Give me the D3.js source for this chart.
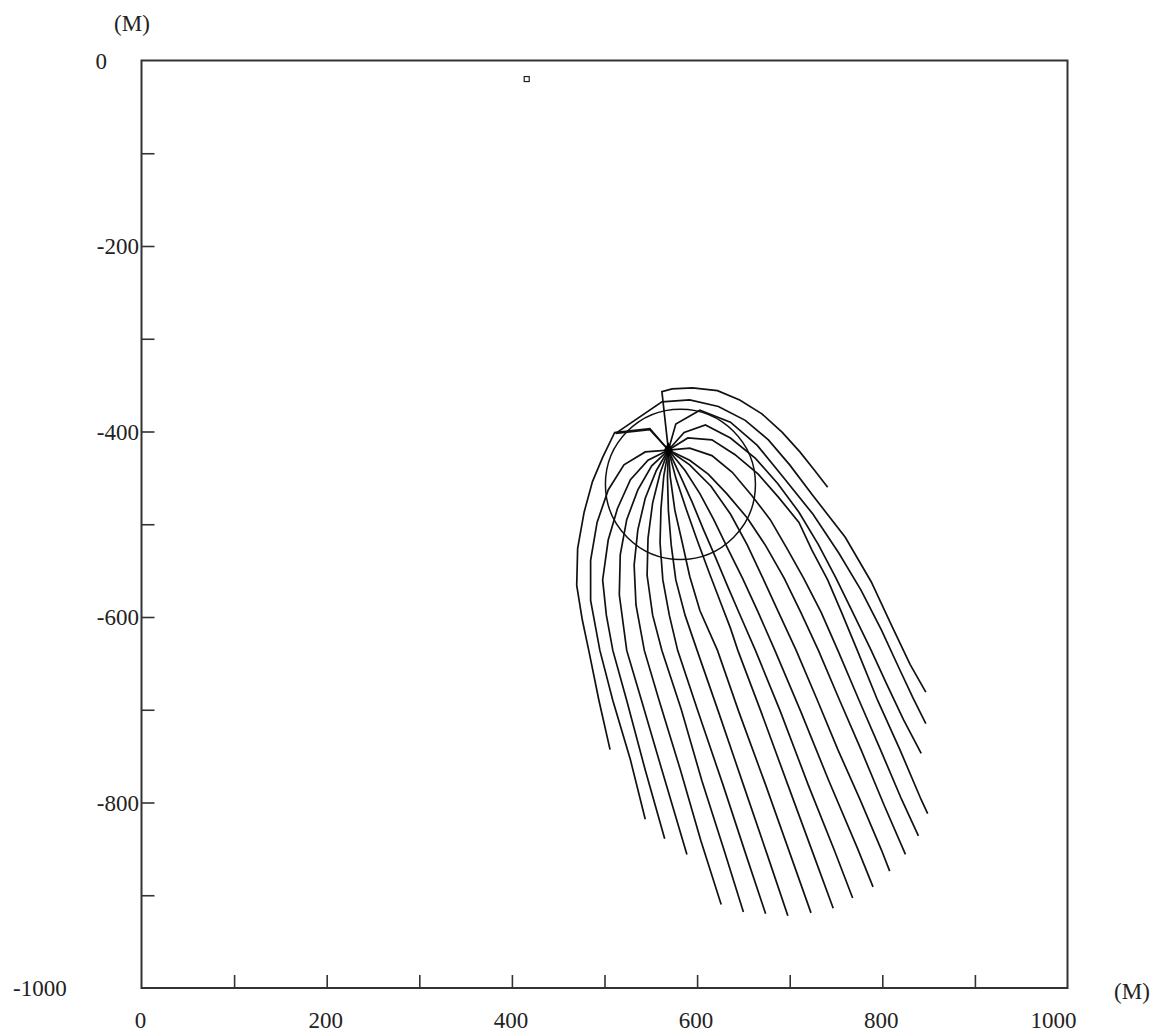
<!DOCTYPE html>
<html>
<head>
<meta charset="utf-8">
<script src="https://cdn.jsdelivr.net/npm/d3@7"></script>
<style>
  body { margin: 0; background: #fff; }
  text { font-family: "Liberation Serif", "Times New Roman", serif; font-size: 23px; fill: #222; }
</style>
</head>
<body>
<svg id="svg" width="1160" height="1032"></svg>
<script>
// axis ticks
var xTicks = [0, 100, 200, 300, 400, 500, 600, 700, 800, 900, 1000];
var yTicks = [0, -100, -200, -300, -400, -500, -600, -700, -800, -900, -1000];
var xLabels = [0, 200, 400, 600, 800, 1000];
var yLabels = [0, -200, -400, -600, -800, -1000];

// source point, marker and circle (metres)
var source = [569, -420];
var marker = [416, -20];
var circle = { cx: 582, cy: -457, r: 81 };

// trajectories, left to right as they end at the bottom
var track1 = [[569,-420],[549,-397],[511,-401],[498,-428],[487,-454],[478,-487],[471,-526],[470,-566],[476,-603],[483,-636],[494,-690],[506,-743]];
var track2 = [[569,-420],[544,-422],[521,-436],[504,-463],[492,-498],[485,-539],[485,-582],[495,-636],[509,-690],[528,-754],[544,-818]];
var track3 = [[569,-420],[547,-431],[528,-452],[514,-483],[504,-517],[498,-560],[502,-598],[509,-636],[524,-690],[544,-765],[565,-839]];
var track4 = [[569,-420],[551,-437],[536,-463],[524,-495],[517,-533],[516,-576],[524,-636],[540,-690],[562,-765],[589,-856]];
var track5 = [[569,-420],[556,-442],[544,-472],[536,-506],[532,-544],[534,-587],[543,-636],[559,-690],[582,-765],[604,-841],[626,-910]];
var track6 = [[569,-420],[560,-445],[552,-477],[547,-515],[546,-555],[552,-598],[562,-636],[583,-700],[605,-776],[629,-851],[650,-918]];
var track7 = [[569,-420],[564,-448],[561,-483],[560,-520],[563,-560],[570,-598],[579,-636],[601,-702],[628,-781],[653,-857],[674,-920]];
var track8 = [[569,-420],[568,-449],[569,-485],[572,-522],[577,-560],[587,-598],[600,-636],[623,-702],[650,-781],[676,-857],[698,-922]];
var track9 = [[569,-420],[571,-449],[576,-485],[584,-520],[592,-556],[603,-593],[622,-636],[645,-702],[674,-781],[701,-857],[723,-919]];
var track10 = [[569,-420],[577,-450],[588,-483],[600,-517],[613,-552],[626,-586],[636,-612],[644,-636],[669,-702],[698,-781],[726,-857],[747,-914]];
var track11 = [[569,-420],[582,-448],[595,-477],[607,-506],[620,-536],[633,-567],[646,-597],[663,-636],[690,-702],[720,-781],[748,-851],[768,-903]];
var track12 = [[569,-420],[587,-442],[603,-467],[618,-495],[633,-526],[649,-558],[666,-595],[684,-636],[712,-702],[742,-776],[773,-849],[790,-891]];
var track13 = [[569,-420],[592,-436],[615,-459],[636,-489],[654,-522],[671,-558],[688,-595],[707,-636],[730,-690],[752,-743],[776,-797],[799,-851],[808,-874]];
var track14 = [[569,-420],[592,-431],[612,-446],[632,-467],[654,-493],[674,-523],[694,-558],[712,-595],[731,-636],[754,-690],[777,-743],[802,-803],[825,-856]];
var track15 = [[569,-420],[592,-418],[616,-426],[638,-444],[659,-469],[679,-495],[697,-526],[715,-558],[734,-595],[752,-636],[775,-690],[798,-743],[821,-797],[839,-836]];
var track16 = [[569,-420],[590,-407],[616,-409],[641,-425],[666,-446],[688,-471],[710,-498],[724,-528],[741,-560],[756,-595],[773,-636],[795,-690],[819,-743],[842,-797],[849,-812]];
var track17 = [[569,-420],[586,-401],[609,-393],[636,-407],[663,-429],[687,-456],[710,-487],[731,-522],[750,-558],[769,-597],[788,-636],[805,-673],[823,-711],[842,-747]];
var track18 = [[569,-420],[577,-392],[603,-377],[636,-390],[665,-415],[692,-448],[725,-489],[753,-531],[777,-571],[799,-614],[818,-655],[833,-687],[847,-715]];
var track19 = [[569,-420],[549,-398],[512,-402],[562,-368],[592,-366],[623,-373],[652,-388],[677,-409],[700,-436],[725,-469],[760,-514],[788,-562],[810,-609],[830,-651],[847,-681]];
var track20 = [[569,-420],[562,-357],[573,-354],[595,-353],[622,-356],[646,-366],[670,-381],[692,-401],[711,-422],[727,-442],[741,-460]];

var tracks = [track1, track2, track3, track4, track5, track6, track7, track8, track9, track10,
              track11, track12, track13, track14, track15, track16, track17, track18, track19, track20];

var plotL = 141.5, plotT = 60.5, plotR = 1067.5, plotB = 988;

var x = d3.scaleLinear().domain([0, 1000]).range([plotL, plotR]);
var y = d3.scaleLinear().domain([0, -1000]).range([plotT, plotB]);

var svg = d3.select("#svg");

// ticks pointing inside the frame
svg.append("g")
  .attr("transform", "translate(0," + plotB + ")")
  .call(d3.axisBottom(x).tickValues(xTicks.slice(1, -1)).tickSize(-13).tickFormat(""))
  .call(function(g) { g.select(".domain").remove(); })
  .selectAll("line").attr("stroke", "#333").attr("stroke-width", 1.6);

svg.append("g")
  .attr("transform", "translate(" + plotL + ",0)")
  .call(d3.axisLeft(y).tickValues(yTicks.slice(1, -1)).tickSize(-13).tickFormat(""))
  .call(function(g) { g.select(".domain").remove(); })
  .selectAll("line").attr("stroke", "#333").attr("stroke-width", 1.6);

// frame
svg.append("rect")
  .attr("x", plotL).attr("y", plotT)
  .attr("width", plotR - plotL).attr("height", plotB - plotT)
  .attr("fill", "none").attr("stroke", "#333").attr("stroke-width", 2);

// labels
svg.selectAll(".xlab").data(xLabels).enter().append("text")
  .attr("class", "xlab")
  .attr("x", function(d) { return d == 1000 ? x(d) - 14 : x(d) - 1; })
  .attr("y", plotB + 40)
  .attr("text-anchor", "middle")
  .text(function(d) { return d; });

svg.selectAll(".ylab").data(yLabels).enter().append("text")
  .attr("class", "ylab")
  .attr("x", function(d) { return d == 0 ? 107 : (d == -1000 ? 13 : 139); })
  .attr("y", function(d) { return y(d) + 8; })
  .attr("text-anchor", function(d) { return d == -1000 ? "start" : "end"; })
  .text(function(d) { return d; });

svg.append("text").attr("x", 132).attr("y", 31).attr("text-anchor", "middle").text("(M)");
svg.append("text").attr("x", 1132).attr("y", 999).attr("text-anchor", "middle").text("(M)");

// trajectories
var line = d3.line().x(function(d) { return x(d[0]); }).y(function(d) { return y(d[1]); });

svg.append("g").selectAll("path").data(tracks).enter().append("path")
  .attr("d", line)
  .attr("fill", "none")
  .attr("stroke", "#111")
  .attr("stroke-width", 1.7)
  .attr("stroke-linejoin", "miter");

// circle
svg.append("ellipse")
  .attr("cx", x(circle.cx)).attr("cy", y(circle.cy))
  .attr("rx", x(circle.cx + circle.r) - x(circle.cx))
  .attr("ry", y(circle.cy - circle.r) - y(circle.cy))
  .attr("fill", "none").attr("stroke", "#111").attr("stroke-width", 1.5);

// source point
svg.append("path")
  .attr("transform", "translate(" + x(source[0]) + "," + y(source[1]) + ")")
  .attr("d", d3.symbol().type(d3.symbolDiamond).size(70))
  .attr("fill", "#000");

// small marker
svg.append("rect")
  .attr("x", x(marker[0]) - 2.5).attr("y", y(marker[1]) - 2.5)
  .attr("width", 5).attr("height", 5)
  .attr("fill", "#fff").attr("stroke", "#222").attr("stroke-width", 1.2);
</script>
</body>
</html>
